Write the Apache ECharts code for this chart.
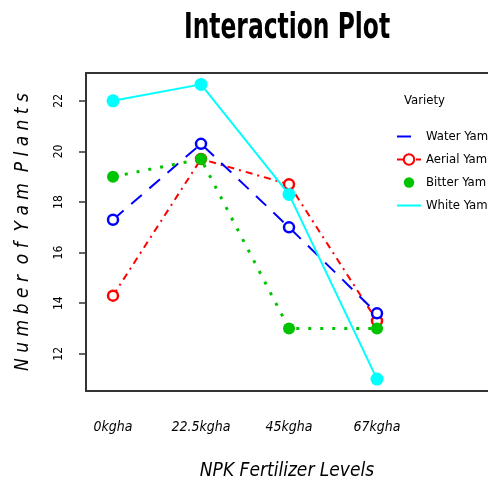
<!DOCTYPE html>
<html><head><meta charset="utf-8">
<script src="https://cdn.jsdelivr.net/npm/echarts@6/dist/echarts.min.js"></script>
<style>html,body{margin:0;padding:0;background:#fff}#c{width:488px;height:482px}</style>
</head><body><div id="c"></div>
<script>
const categories = ['0kgha', '22.5kgha', '45kgha', '67kgha'];
const waterYam  = [17.3, 20.3, 17.0, 13.6];
const aerialYam = [14.3, 19.7, 18.7, 13.3];
const bitterYam = [19.0, 19.7, 13.0, 13.0];
const whiteYam  = [22.0, 22.65, 18.3, 11.0];
const yTicks = [12, 14, 16, 18, 20, 22];
const xTicks = [1, 2, 3, 4];

function pts(arr){ return arr.map((v,i)=>[i+1, v]); }

const chart = echarts.init(document.getElementById('c'));
const narrow = "'Liberation Sans Narrow', 'DejaVu Sans Condensed', sans-serif";
const GW = 420;
const XMIN = 0.693, XMAX = 0.693 + GW/88;
const frameLine = { show: true, lineStyle: { color: '#333', width: 2 } };
chart.setOption({
  animation: false,
  backgroundColor: '#fff',
  title: [
    { text: 'Variety', left: 399, top: 89,
      textStyle: { fontFamily: narrow, fontWeight: 'normal', fontSize: 13, color: '#000' } }
  ],
  graphic: [
    { type: 'text', x: 287, y: 11, scaleX: 0.65, originX: 0,
      style: { text: 'Interaction Plot', align: 'center', verticalAlign: 'top',
        font: "bold 36px 'DejaVu Sans', sans-serif", fill: '#000' } }
  ],
  grid: { left: 86, top: 73, width: GW, height: 318, outerBoundsMode: 'none', containLabel: false },
  legend: {
    orient: 'vertical', left: 391, top: 125, itemGap: 10, itemWidth: 24, itemHeight: 13,
    textStyle: { fontFamily: narrow, fontSize: 13, color: '#000' },
    data: [
      { name: 'Water Yam', itemStyle: { opacity: 0 } },
      { name: 'Aerial Yam' },
      { name: 'Bitter Yam', lineStyle: { opacity: 0 } },
      { name: 'White Yam', itemStyle: { opacity: 0 } }
    ]
  },
  xAxis: [{
    type: 'value', min: XMIN, max: XMAX, position: 'bottom',
    splitLine: { show: false }, axisLine: frameLine, axisTick: { show: false },
    axisLabel: { customValues: xTicks, margin: 29, formatter: v => categories[Math.round(v)-1] || '',
      fontFamily: narrow, fontStyle: 'italic', fontSize: 14, color: '#000' },
    name: 'NPK Fertilizer Levels', nameLocation: 'middle', nameGap: 71,
    nameTextStyle: { fontFamily: narrow, fontStyle: 'italic', fontSize: 19, color: '#000', padding: [0, 18, 0, 0] }
  }, {
    type: 'value', min: XMIN, max: XMAX, position: 'top',
    splitLine: { show: false }, axisLine: frameLine, axisTick: { show: false }, axisLabel: { show: false }
  }],
  yAxis: {
    type: 'value', min: 10.53, max: 23.1,
    splitLine: { show: false }, axisLine: frameLine,
    axisTick: { show: true, customValues: yTicks, length: 7, lineStyle: { color: '#333', width: 1.5 } },
    axisLabel: { customValues: yTicks, rotate: 90, margin: 21, fontFamily: narrow, fontSize: 12, color: '#000' },
    name: 'N u m b e r  o f  Y a m  P l a n t s', nameLocation: 'middle', nameGap: 53,
    nameTextStyle: { fontFamily: narrow, fontStyle: 'italic', fontSize: 19, color: '#000' }
  },
  series: [
    { name: 'Water Yam', type: 'line', data: pts(waterYam), color: '#0000ff',
      symbol: 'circle', symbolSize: 10, showSymbol: true,
      itemStyle: { color: '#fff', borderColor: '#0000ff', borderWidth: 2.5 },
      lineStyle: { color: '#0000ff', width: 2, type: [14, 10] }, z: 3 },
    { name: 'Aerial Yam', type: 'line', data: pts(aerialYam), color: '#ff0000',
      symbol: 'circle', symbolSize: 10,
      itemStyle: { color: '#fff', borderColor: '#ff0000', borderWidth: 2.5 },
      lineStyle: { color: '#ff0000', width: 2, type: [7, 5, 2, 5] }, z: 2 },
    { name: 'Bitter Yam', type: 'line', data: pts(bitterYam), color: '#00c400',
      symbol: 'circle', symbolSize: 12,
      itemStyle: { color: '#00c400', borderColor: '#00c400', borderWidth: 0 },
      lineStyle: { color: '#00c400', width: 3, type: [3, 9] }, z: 4 },
    { name: 'White Yam', type: 'line', data: pts(whiteYam), color: '#00ffff',
      symbol: 'circle', symbolSize: 13,
      itemStyle: { color: '#00ffff', borderWidth: 0 },
      lineStyle: { color: '#00ffff', width: 2, type: 'solid' }, z: 5 }
  ]
});
</script></body></html>
